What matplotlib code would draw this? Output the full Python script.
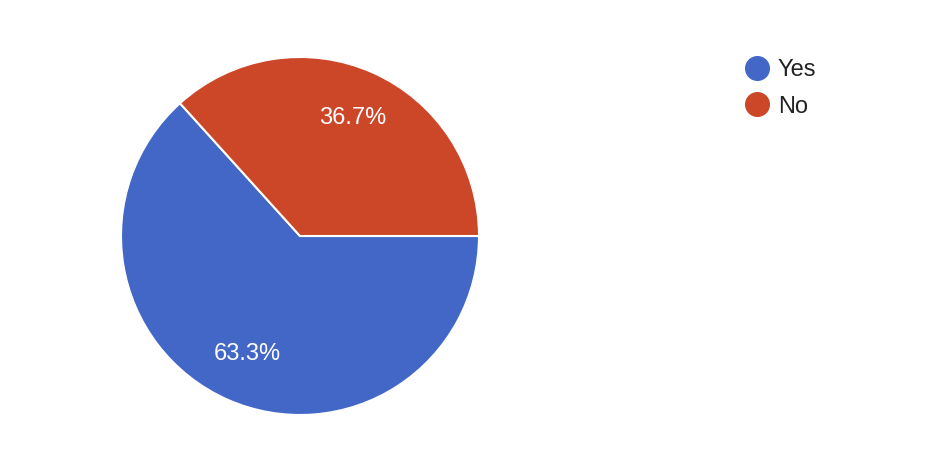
import matplotlib
matplotlib.use("Agg")
import matplotlib.pyplot as plt
from matplotlib.lines import Line2D

labels = ["Yes", "No"]
shares = [63.3, 36.7]
colors = ["#4267C6", "#CC4628"]

plt.rcParams["font.family"] = ["Liberation Sans", "DejaVu Sans"]

fig = plt.figure(figsize=(9.42, 4.58), dpi=100)
ax = fig.add_axes([121 / 942, 43 / 458, 358 / 942, 358 / 458])

# Yes starts where No ends so the split sits at 3 o'clock and upper-left
start = 360 * shares[1] / sum(shares)
wedges, texts, autotexts = ax.pie(
    shares,
    colors=colors,
    startangle=start,
    counterclock=True,
    autopct="%.1f%%",
    pctdistance=0.72,
    radius=1,
    wedgeprops=dict(edgecolor="white", linewidth=1.5),
    textprops=dict(color="white", fontsize=17),
)
ax.set_xlim(-1, 1)
ax.set_ylim(-1, 1)
ax.set_aspect("equal")

handles = [
    Line2D([], [], marker="o", linestyle="", markersize=17, color=c)
    for c in colors
]
fig.legend(
    handles, labels,
    loc="upper left",
    bbox_to_anchor=(745 / 942, 1 - 59 / 458),
    frameon=False,
    fontsize=17,
    labelcolor="#222222",
    handlelength=1.0,
    handletextpad=0.39,
    labelspacing=0.62,
    borderaxespad=0,
    borderpad=0,
)

fig.savefig("out.png", dpi=100, facecolor="white")
